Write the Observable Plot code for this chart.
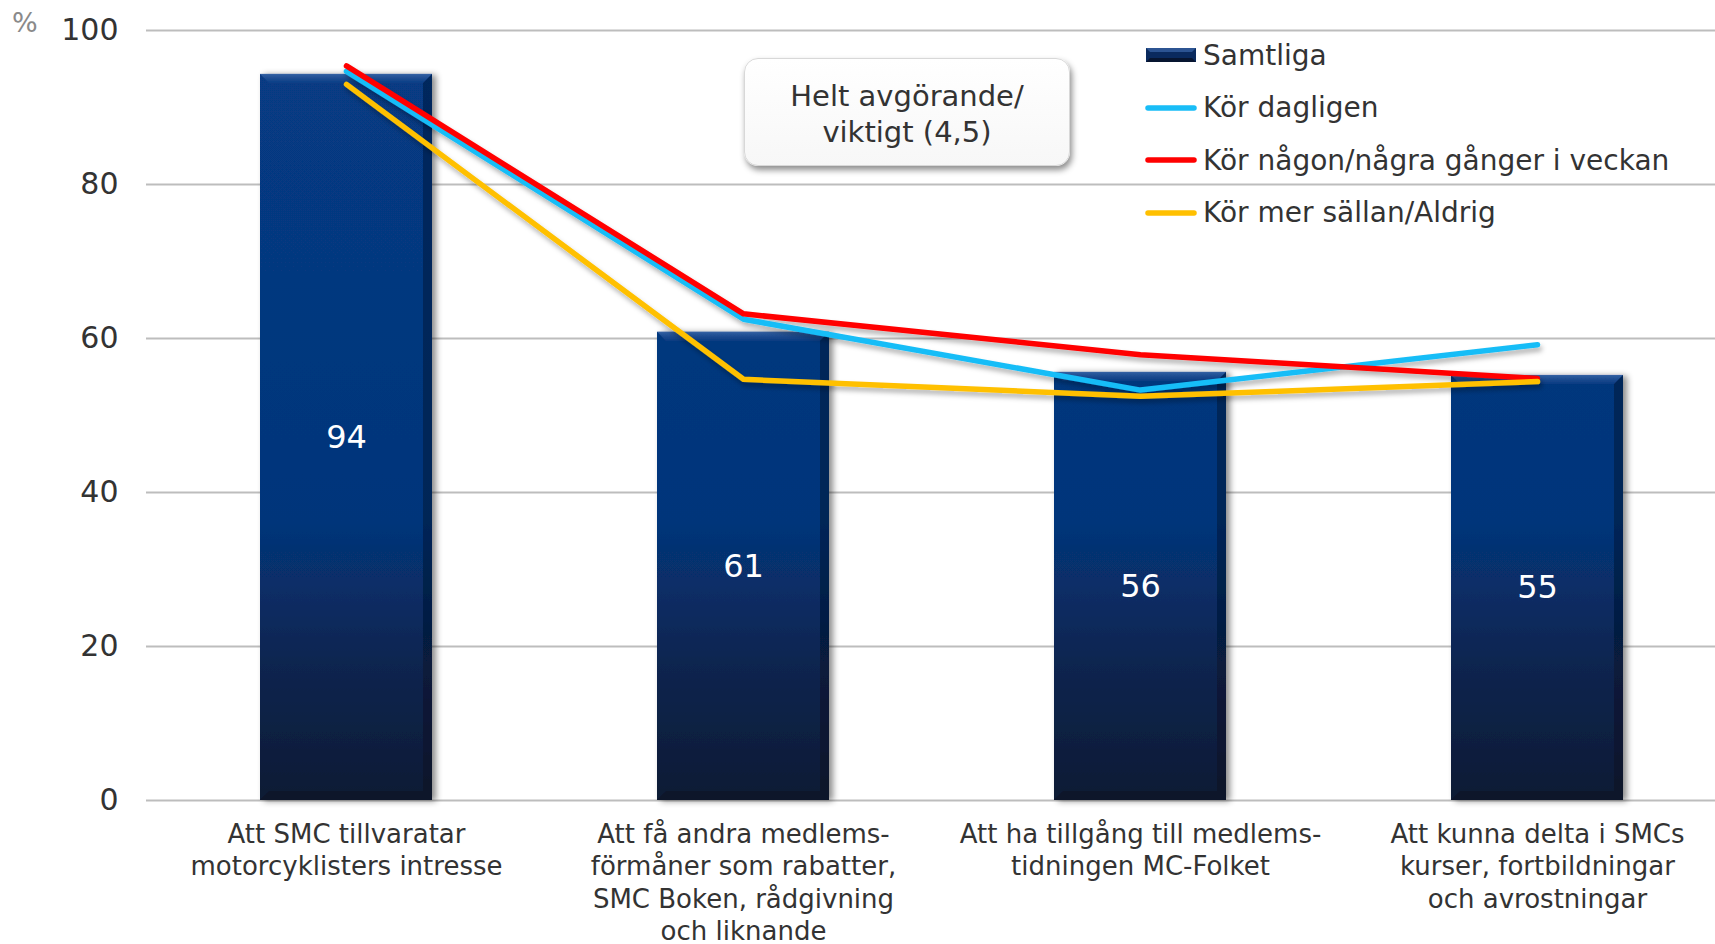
<!DOCTYPE html>
<html>
<head>
<meta charset="utf-8">
<script src="https://cdn.jsdelivr.net/npm/d3@7"></script>
<script src="https://cdn.jsdelivr.net/npm/@observablehq/plot@0.6"></script>
<style>
  html, body { margin: 0; padding: 0; background: #fff; }
  #wrap { position: relative; width: 1715px; height: 944px; font-family: "DejaVu Sans", Verdana, sans-serif; overflow: hidden; }
  #chart svg { display: block; }
  .pct { position: absolute; left: 12px; top: 7px; font-size: 27px; color: #8a8a8a; }
  .box { position: absolute; left: 744px; top: 58px; width: 326px; height: 108px; box-sizing: border-box;
         background: linear-gradient(#ffffff, #f7f7f7); border: 1px solid #d8d8d8; border-radius: 14px;
         box-shadow: 2px 4px 6px rgba(0,0,0,0.45); display: flex; align-items: center; justify-content: center;
         text-align: center; font-size: 29px; line-height: 36px; color: #333; padding-top: 4px; }
  .legend { position: absolute; left: 1145px; top: 29px; font-size: 28px; color: #333; }
  .legend .row { display: flex; align-items: center; height: 52.5px; }
  .legend .sw { width: 52px; margin-right: 6px; }
</style>
</head>
<body>
<div id="wrap">
  <div id="chart"></div>
  <div class="pct">%</div>
  <div class="box" id="box"></div>
  <div class="legend" id="legend"></div>
</div>
<script>
const categories = [
  "Att SMC tillvaratar\nmotorcyklisters intresse",
  "Att få andra medlems-\nförmåner som rabatter,\nSMC Boken, rådgivning\noch liknande",
  "Att ha tillgång till medlems-\ntidningen MC-Folket",
  "Att kunna delta i SMCs\nkurser, fortbildningar\noch avrostningar"
];
const samtliga = [94.3, 60.8, 55.6, 55.2];
const korDagligen = [94.7, 62.5, 53.3, 59.2];
const korNagonGang = [95.4, 63.2, 57.9, 54.8];
const korSallan = [93.0, 54.7, 52.5, 54.4];
const seriesNames = ["Samtliga", "Kör dagligen", "Kör någon/några gånger i veckan", "Kör mer sällan/Aldrig"];
const lineColors = ["#19bdf7", "#ff0000", "#ffc000"];
const yTicks = [0, 20, 40, 60, 80, 100];
const boxText = ["Helt avgörande/", "viktigt (4,5)"];

const bars = categories.map((c, i) => ({cat: c, value: samtliga[i]}));
const lineSeries = [korDagligen, korNagonGang, korSallan];
const lineData = lineSeries.flatMap((arr, s) => categories.map((c, i) => ({cat: c, value: arr[i], series: seriesNames[s + 1]})));

const font = '"DejaVu Sans", Verdana, sans-serif';

const chart = Plot.plot({
  width: 1715,
  height: 944,
  marginTop: 30,
  marginBottom: 144,
  marginLeft: 146,
  marginRight: 0,
  style: {fontFamily: font, background: "white", overflow: "visible"},
  x: {domain: categories, range: [146, 1737], paddingInner: 0.568, paddingOuter: 0.284, label: null},
  y: {domain: [0, 100], label: null},
  color: {domain: seriesNames.slice(1), range: lineColors},
  marks: [
    Plot.gridY(yTicks, {stroke: "#bdbdbd", strokeOpacity: 1, strokeWidth: 2}),
    Plot.axisY(yTicks, {tickSize: 0, tickPadding: 28, fontSize: 30, fill: "#333", label: null}),
    Plot.axisX({tickSize: 0, tickPadding: 20, fontSize: 26, fill: "#333", lineHeight: 1.235, lineAnchor: "top", label: null}),
    Plot.barY(bars, {x: "cat", y: "value", fill: "url(#barGrad)", className: "bars"}),
    Plot.line(lineData, {x: "cat", y: "value", z: "series", stroke: "series", strokeWidth: 5.5, strokeLinecap: "round", strokeLinejoin: "round", className: "lines"}),
    Plot.text(bars, {x: "cat", y: d => d.value / 2, text: d => String(Math.round(d.value)), fill: "white", fontSize: 32})
  ]
});

// gradients and effects
const ns = "http://www.w3.org/2000/svg";
const defs = document.createElementNS(ns, "defs");
defs.innerHTML = `
  <linearGradient id="barGrad" gradientUnits="userSpaceOnUse" x1="0" y1="30" x2="0" y2="800">
    <stop offset="0" stop-color="#073b84"/>
    <stop offset="0.64" stop-color="#05357a"/>
    <stop offset="0.82" stop-color="#0a2550"/>
    <stop offset="1" stop-color="#0b1b34"/>
  </linearGradient>
  <linearGradient id="hiGrad" x1="0" y1="0" x2="0" y2="1">
    <stop offset="0" stop-color="#3a67a8" stop-opacity="0.9"/>
    <stop offset="1" stop-color="#1a4a90" stop-opacity="0.3"/>
  </linearGradient>
  <filter id="barShadow" x="-20%" y="-5%" width="140%" height="110%">
    <feDropShadow dx="4" dy="1" stdDeviation="3" flood-color="#000" flood-opacity="0.45"/>
  </filter>
  <filter id="lineShadow" x="-5%" y="-20%" width="110%" height="140%">
    <feDropShadow dx="2" dy="4" stdDeviation="2.5" flood-color="#000" flood-opacity="0.3"/>
  </filter>`;
chart.insertBefore(defs, chart.firstChild);

const barG = chart.querySelector("g.bars");
if (barG) {
  barG.setAttribute("filter", "url(#barShadow)");
  barG.querySelectorAll("rect").forEach(r => {
    const x = +r.getAttribute("x"), y = +r.getAttribute("y");
    const w = +r.getAttribute("width"), h = +r.getAttribute("height");
    const b = 9;
    const top = document.createElementNS(ns, "polygon");
    top.setAttribute("points", `${x},${y} ${x + w},${y} ${x + w - b},${y + b} ${x + b},${y + b}`);
    top.setAttribute("fill", "url(#hiGrad)");
    barG.appendChild(top);
    const bot = document.createElementNS(ns, "polygon");
    bot.setAttribute("points", `${x},${y + h} ${x + w},${y + h} ${x + w - b},${y + h - b} ${x + b},${y + h - b}`);
    bot.setAttribute("fill", "#0a1426");
    bot.setAttribute("fill-opacity", "0.7");
    barG.appendChild(bot);
    const right = document.createElementNS(ns, "polygon");
    right.setAttribute("points", `${x + w},${y} ${x + w},${y + h} ${x + w - b},${y + h - b} ${x + w - b},${y + b}`);
    right.setAttribute("fill", "#020a18");
    right.setAttribute("fill-opacity", "0.35");
    barG.appendChild(right);
  });
}
const lineG = chart.querySelector("g.lines");
if (lineG) lineG.setAttribute("filter", "url(#lineShadow)");

document.getElementById("chart").appendChild(chart);

// text box
document.getElementById("box").innerHTML = boxText.join("<br>");

// legend
const legend = document.getElementById("legend");
seriesNames.forEach((name, i) => {
  const row = document.createElement("div");
  row.className = "row";
  const sw = document.createElementNS(ns, "svg");
  sw.setAttribute("class", "sw");
  sw.setAttribute("width", 52);
  sw.setAttribute("height", 16);
  if (i === 0) {
    sw.innerHTML = `<rect x="1" y="1" width="50" height="14" fill="#0a2a5e"/>
      <polygon points="1,1 51,1 47,5 5,5" fill="#3a67a8" fill-opacity="0.7"/>
      <polygon points="1,15 51,15 47,11 5,11" fill="#071530"/>`;
  } else {
    sw.innerHTML = `<line x1="3" y1="8" x2="49" y2="8" stroke="${lineColors[i - 1]}" stroke-width="5.5" stroke-linecap="round"/>`;
  }
  row.appendChild(sw);
  const t = document.createElement("span");
  t.textContent = name;
  row.appendChild(t);
  legend.appendChild(row);
});
</script>
</body>
</html>
